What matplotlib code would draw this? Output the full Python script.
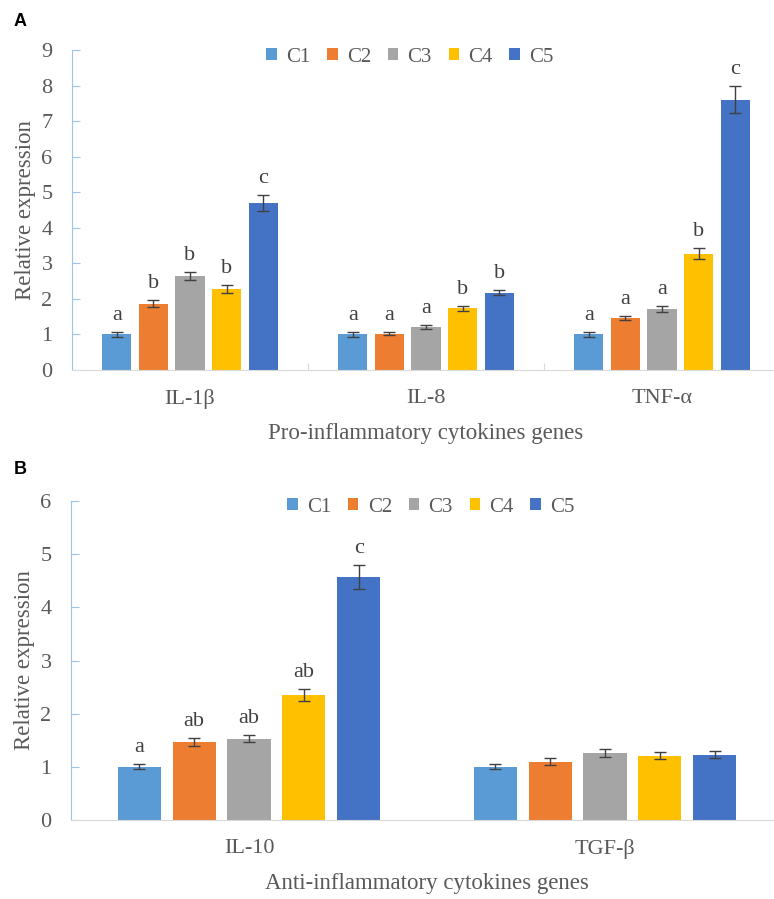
import numpy as np
from matplotlib import pyplot as plt

# данные
groups = ['C1', 'C2', 'C3', 'C4', 'C5']
colors = ['#5b9bd5', '#ed7d31', '#a5a5a5', '#ffc000', '#4472c4']

genes_a = ['IL-1β', 'IL-8', 'TNF-α']
vals_a = [
    [1.00, 1.00, 1.00],
    [1.87, 1.02, 1.47],
    [2.65, 1.20, 1.72],
    [2.27, 1.73, 3.27],
    [4.70, 2.17, 7.60],
]
errs_a = [
    [0.06, 0.06, 0.06],
    [0.10, 0.04, 0.06],
    [0.12, 0.06, 0.08],
    [0.11, 0.08, 0.15],
    [0.23, 0.07, 0.38],
]
letters_a = [
    ['a', 'a', 'a'],
    ['b', 'a', 'a'],
    ['b', 'a', 'a'],
    ['b', 'b', 'b'],
    ['c', 'b', 'c'],
]

genes_b = ['IL-10', 'TGF-β']
vals_b = [
    [1.00, 1.00],
    [1.47, 1.10],
    [1.53, 1.26],
    [2.35, 1.21],
    [4.57, 1.23],
]
errs_b = [
    [0.05, 0.05],
    [0.08, 0.07],
    [0.07, 0.07],
    [0.12, 0.07],
    [0.23, 0.06],
]
letters_b = [
    ['a', ''],
    ['ab', ''],
    ['ab', ''],
    ['ab', ''],
    ['c', ''],
]

serif = 'Liberation Serif'
txt = '#595959'
W, H = 774, 899


def panel(rect, genes, vals, errs, letters, ymax, xlabel, step, width, sep_ticks, legend_y, legend_x):
    ax = fig.add_axes(rect)
    x = np.arange(len(genes))
    for i, g in enumerate(groups):
        pos = x + (i - 2) * step
        ax.bar(pos, vals[i], width, color=colors[i], label=g, zorder=2,
               yerr=errs[i], error_kw=dict(ecolor='#404040', elinewidth=1, capsize=4, capthick=1))
        for j in range(len(genes)):
            if letters[i][j]:
                ax.annotate(letters[i][j], (pos[j], vals[i][j] + errs[i][j]),
                            xytext=(0, 5), textcoords='offset points', ha='center', va='bottom',
                            fontsize=16, family=serif, color='#404040')
    ax.set_xlim(-0.5, len(genes) - 0.5)
    ax.set_ylim(0, ymax)
    ax.set_yticks(range(ymax + 1))
    for s in ['top', 'right']:
        ax.spines[s].set_visible(False)
    ax.spines['left'].set_color('#9dc3e6')
    ax.spines['bottom'].set_color('#d9d9d9')
    ax.tick_params(axis='y', direction='in', length=6, color='#9dc3e6', labelsize=16, labelcolor=txt, pad=14)
    for lab in ax.get_yticklabels():
        lab.set_family(serif)
    # границы категорий
    ax.set_xticks(sep_ticks)
    ax.set_xticklabels([])
    ax.tick_params(axis='x', which='major', direction='in', length=5, color='#d9d9d9')
    ax.set_xticks(x, minor=True)
    ax.set_xticklabels(genes, minor=True, fontsize=16, family=serif, color=txt)
    ax.tick_params(axis='x', which='minor', length=0, pad=14)
    ax.set_xlabel(xlabel, fontsize=16.5, family=serif, color=txt, labelpad=10)
    ax.set_ylabel('Relative expression', fontsize=16.5, family=serif, color=txt, labelpad=4)
    ax.legend(loc='center', bbox_to_anchor=(legend_x, legend_y), bbox_transform=fig.transFigure,
              ncol=5, frameon=False, handlelength=0.5, handleheight=0.5, handletextpad=0.45,
              columnspacing=0.8, prop={'family': serif, 'size': 15}, labelcolor=txt)
    return ax


fig = plt.figure(figsize=(W / 100, H / 100), dpi=100)

# панель A
panel([72 / W, 1 - 370 / H, 708 / W, 320 / H], genes_a, vals_a, errs_a, letters_a, 9,
      'Pro-inflammatory cytokines genes', 0.155, 0.123, [0.5, 1.5], 1 - 57 / H, 410 / W)
fig.text(14 / W, 1 - 22 / H, 'A', fontsize=13, fontweight='bold', family='Liberation Sans', va='center')

# панель B
panel([71 / W, 1 - 820 / H, 712 / W, 319 / H], genes_b, vals_b, errs_b, letters_b, 6,
      'Anti-inflammatory cytokines genes', 0.154, 0.121, [], 1 - 507 / H, 431 / W)
fig.text(14 / W, 1 - 469 / H, 'B', fontsize=13, fontweight='bold', family='Liberation Sans', va='center')

fig.savefig('out.png', dpi=100)
